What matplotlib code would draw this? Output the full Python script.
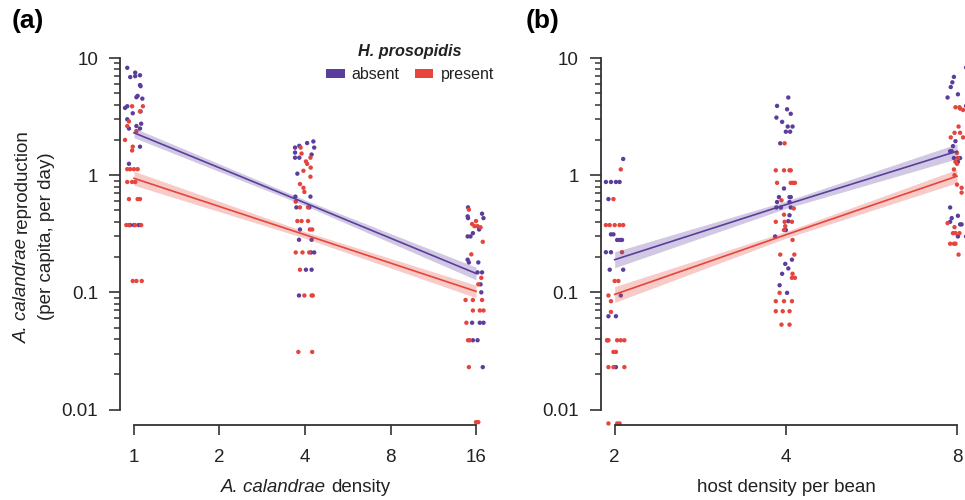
import matplotlib
matplotlib.use("Agg")
import matplotlib.pyplot as plt
from matplotlib.patches import Patch
from matplotlib.ticker import FixedLocator, NullFormatter

plt.rcParams['font.family'] = ['Liberation Sans', 'DejaVu Sans']

PURPLE = '#5b3e9c'
RED = '#e5453c'
AXC = '#333333'

# ---------------- data: panel (a) A. calandrae density ----------------
a_abs_x = [0.947, 1.01, 0.97, 1.01, 1.05, 1.05, 1.055, 1.03, 1.02, 1.07, 0.947, 0.93, 0.99, 1.055,
           0.947, 1.06, 1.02, 0.96, 1.05, 1.05, 0.96, 0.97, 1.0, 1.04,
           3.69, 3.82, 4.07, 4.28, 4.31, 4.22, 3.69, 3.69, 3.82, 3.76, 4.18, 3.70, 3.73, 4.14, 3.84,
           3.81, 4.22, 4.31, 4.20, 4.03, 4.22, 3.81,
           15.0, 14.95, 15.0, 16.8, 17.0, 16.4, 15.6, 14.95, 15.3, 14.95, 15.1, 16.3, 16.2, 16.8,
           16.6, 16.7, 15.5, 16.5, 17.0, 15.6, 16.2, 16.9]
a_abs_y = [8.25, 7.5, 6.875, 7.0, 7.125, 5.875, 5.75, 4.75, 4.625, 4.5, 3.875, 3.75, 3.375, 3.5,
           3.0, 2.75, 2.625, 2.5, 2.5, 1.75, 1.25, 0.375, 0.375, 0.375,
           1.72, 1.78, 1.88, 1.94, 1.72, 1.5, 1.56, 1.41, 1.41, 1.03, 0.656, 0.656, 0.531, 0.531, 0.344,
           0.281, 0.281, 0.219, 0.219, 0.156, 0.156, 0.094,
           0.531, 0.445, 0.43, 0.469, 0.43, 0.344, 0.32, 0.30, 0.30, 0.19, 0.18, 0.18, 0.148, 0.148,
           0.117, 0.10, 0.055, 0.055, 0.055, 0.039, 0.039, 0.023]
a_pre_x = [0.985, 1.075, 1.05, 0.96, 0.947, 1.02, 0.93, 0.99, 0.985, 0.947, 0.97, 1.0, 1.03, 0.947,
           0.985, 1.01, 0.96, 1.03, 1.05, 0.94, 0.96, 1.01, 1.06, 0.99, 1.02, 1.065,
           3.86, 3.89, 4.03, 4.07, 4.18, 3.95, 4.19, 4.18, 3.84, 3.95, 3.98, 3.71, 3.84, 4.1, 3.76,
           3.89, 4.1, 4.16, 4.24, 3.71, 3.92, 4.14, 3.84, 3.98, 4.22, 4.26, 3.79, 4.24,
           15.1, 15.5, 15.8, 16.0, 16.2, 16.6, 16.9, 15.4, 16.7, 16.3, 14.7, 15.6, 16.8, 15.6, 16.5,
           17.0, 14.8, 15.0, 15.2, 15.1, 16.0, 16.3]
a_pre_y = [3.875, 3.875, 3.5, 2.875, 2.625, 2.375, 2.0, 1.75, 1.625, 1.125, 1.125, 1.125, 1.125, 0.875,
           0.875, 0.875, 0.625, 0.625, 0.625, 0.375, 0.375, 0.375, 0.375, 0.125, 0.125, 0.125,
           1.72, 1.53, 1.31, 1.25, 1.41, 1.09, 1.16, 0.97, 0.84, 0.78, 0.72, 0.594, 0.531, 0.531, 0.406,
           0.406, 0.406, 0.344, 0.344, 0.219, 0.219, 0.219, 0.156, 0.094, 0.094, 0.094, 0.031, 0.031,
           0.508, 0.383, 0.367, 0.406, 0.367, 0.359, 0.27, 0.211, 0.133, 0.117, 0.086, 0.086, 0.086, 0.07,
           0.07, 0.07, 0.055, 0.039, 0.039, 0.023, 0.0078, 0.0078]

# fitted lines with confidence band (start, middle, end)
a_fit_x = [1, 4, 16]
a_abs_fit = [2.3, 0.58, 0.145]
a_abs_lo = [2.09, 0.55, 0.128]
a_abs_hi = [2.53, 0.615, 0.164]
a_pre_fit = [0.94, 0.31, 0.102]
a_pre_lo = [0.82, 0.29, 0.090]
a_pre_hi = [1.08, 0.33, 0.115]

# ---------------- data: panel (b) host density per bean ----------------
b_abs_x = [2.07, 1.93, 1.97, 2.01, 2.04, 1.95, 1.97, 1.99, 2.02, 2.04, 2.06, 1.93, 1.97, 1.96, 2.07,
           2.05, 1.95, 2.01, 1.94, 2.01,
           4.04, 3.86, 4.02, 4.08, 3.85, 3.94, 4.03, 4.11, 4.0, 4.07, 3.91, 3.97, 3.89, 4.06, 4.08,
           3.86, 4.06, 3.85, 3.92, 4.08, 4.06, 4.04, 4.0, 3.83, 3.99, 4.1, 4.04, 3.94, 3.90, 4.02,
           8.3, 7.9, 7.85, 7.8, 7.7, 8.03, 8.3, 7.95, 7.87, 7.83, 7.78, 7.9, 8.03, 8.1, 7.78, 7.83,
           8.03, 8.15, 8.1, 7.78, 8.03, 8.3]
b_abs_y = [1.375, 0.875, 0.875, 0.875, 0.875, 0.625, 0.3125, 0.3125, 0.28, 0.28, 0.28, 0.22, 0.22,
           0.156, 0.156, 0.094, 0.0625, 0.0625, 0.039, 0.023,
           4.6, 3.9, 3.65, 3.34, 3.1, 2.85, 2.6, 2.6, 2.35, 2.35, 1.87, 0.77, 0.65, 0.65, 0.65,
           0.59, 0.59, 0.53, 0.53, 0.53, 0.455, 0.405, 0.34, 0.30, 0.175, 0.19, 0.16, 0.144, 0.115, 0.099,
           8.3, 6.9, 6.2, 5.65, 4.6, 4.9, 3.9, 1.95, 1.77, 1.6, 1.6, 1.4, 1.3, 1.4, 0.53, 0.43,
           0.45, 0.38, 0.38, 0.40, 0.30, 0.30]
b_pre_x = [2.05, 1.99, 1.93, 1.96, 2.0, 2.04, 2.07, 2.06, 2.0, 2.03, 1.95, 1.97, 1.97, 1.94, 1.95,
           2.02, 2.05, 2.08, 1.99, 2.01, 1.95, 1.99, 2.08, 1.95, 2.02, 2.04,
           3.98, 3.84, 3.97, 4.06, 4.08, 3.86, 4.08, 4.12, 4.15, 3.93, 4.13, 3.97, 3.84, 3.98, 4.1,
           3.99, 3.97, 4.11, 3.91, 4.14, 4.11, 4.1, 4.15, 3.90, 3.84, 3.97, 4.1, 3.84, 3.95, 4.06,
           3.93, 4.06,
           7.95, 8.08, 8.2, 8.1, 8.05, 7.92, 8.1, 8.2, 7.8, 8.0, 8.03, 7.95, 8.0, 7.9, 7.92, 8.0,
           8.15, 8.15, 7.7, 7.92, 7.87, 7.95, 8.08, 7.78, 7.9, 7.95, 8.05]
b_pre_y = [1.12, 0.625, 0.375, 0.375, 0.375, 0.375, 0.375, 0.22, 0.125, 0.125, 0.094, 0.084, 0.068,
           0.039, 0.039, 0.039, 0.039, 0.039, 0.031, 0.031, 0.023, 0.023, 0.023, 0.0076, 0.0076, 0.0076,
           1.87, 1.1, 1.1, 1.1, 1.1, 0.86, 0.86, 0.86, 0.86, 0.61, 0.52, 0.46, 0.40, 0.40, 0.40,
           0.367, 0.34, 0.28, 0.21, 0.21, 0.144, 0.133, 0.133, 0.099, 0.084, 0.084, 0.084, 0.069, 0.069,
           0.069, 0.053, 0.053,
           3.8, 3.8, 3.6, 3.7, 2.6, 2.3, 2.3, 2.1, 2.1, 1.55, 1.4, 1.3, 1.25, 1.12, 1.0, 0.83,
           0.78, 0.71, 0.39, 0.36, 0.32, 0.32, 0.32, 0.26, 0.26, 0.26, 0.21]

b_fit_x = [2, 4, 8]
b_abs_fit = [0.19, 0.56, 1.6]
b_abs_lo = [0.162, 0.52, 1.38]
b_abs_hi = [0.222, 0.60, 1.85]
b_pre_fit = [0.096, 0.31, 0.98]
b_pre_lo = [0.082, 0.29, 0.86]
b_pre_hi = [0.112, 0.33, 1.12]

y_ticks = [0.01, 0.1, 1, 10]
y_ticklabels = ['0.01', '0.1', '1', '10']
a_xticks = [1, 2, 4, 8, 16]
b_xticks = [2, 4, 8]
legend_labels = ['absent', 'present']

# ---------------- figure ----------------
W, H = 965, 500
fig = plt.figure(figsize=(W / 100, H / 100), dpi=100)

FS = 13.5
TXT = '#222222'
SPACE_PT = 0.278 * FS

ax_bottom_px = 424.5
ax_top_px = 45
axh = (ax_bottom_px - ax_top_px) / H
axb = (H - ax_bottom_px) / H
axA = fig.add_axes([120.3 / W, axb, 369.4 / W, axh])
axB = fig.add_axes([601.0 / W, axb, 369.7 / W, axh])

minor = [m * 10.0 ** e for e in (-2, -1, 0) for m in range(2, 10)]


def style(ax, xticks, xlim):
    ax.set_xscale('log', base=2)
    ax.set_yscale('log')
    ax.set_xlim(*xlim)
    ax.set_ylim(10 ** -2.128, 10 ** 1.111)
    for s in ('top', 'right'):
        ax.spines[s].set_visible(False)
    for s in ('left', 'bottom'):
        ax.spines[s].set_color(AXC)
        ax.spines[s].set_linewidth(1.3)
    ax.spines['left'].set_bounds(0.01, 10)
    ax.spines['bottom'].set_bounds(xticks[0], xticks[-1])
    ax.yaxis.set_major_locator(FixedLocator(y_ticks))
    ax.set_yticklabels(y_ticklabels)
    ax.yaxis.set_minor_locator(FixedLocator(minor))
    ax.yaxis.set_minor_formatter(NullFormatter())
    ax.xaxis.set_major_locator(FixedLocator(xticks))
    ax.set_xticklabels([str(v) for v in xticks])
    ax.xaxis.set_minor_locator(FixedLocator([]))
    ax.tick_params(axis='y', which='major', length=8, width=1.2, color=AXC, labelsize=FS, pad=8,
                   labelcolor=TXT)
    ax.tick_params(axis='y', which='minor', length=4.5, width=1.1, color=AXC)
    ax.tick_params(axis='x', which='major', length=7.5, width=1.2, color=AXC, labelsize=FS, pad=10,
                   labelcolor=TXT)
    ax.patch.set_alpha(0)


def draw(ax, ax_x, ax_y, pr_x, pr_y, fx, af, alo, ahi, pf, plo, phi):
    ax.scatter(ax_x, ax_y, s=10, color=PURPLE, edgecolors='none', zorder=2, clip_on=False)
    ax.scatter(pr_x, pr_y, s=10, color=RED, edgecolors='none', zorder=2, clip_on=False)
    ax.fill_between(fx, alo, ahi, color=PURPLE, alpha=0.28, linewidth=0, zorder=3)
    ax.fill_between(fx, plo, phi, color=RED, alpha=0.28, linewidth=0, zorder=3)
    ax.plot(fx, af, color=PURPLE, lw=1.2, zorder=4)
    ax.plot(fx, pf, color=RED, lw=1.2, zorder=4)


style(axA, a_xticks, (2 ** -0.16, 2 ** 4.16))
style(axB, b_xticks, (2 ** 0.92, 2 ** 3.08))
draw(axA, a_abs_x, a_abs_y, a_pre_x, a_pre_y, a_fit_x, a_abs_fit, a_abs_lo, a_abs_hi,
     a_pre_fit, a_pre_lo, a_pre_hi)
draw(axB, b_abs_x, b_abs_y, b_pre_x, b_pre_y, b_fit_x, b_abs_fit, b_abs_lo, b_abs_hi,
     b_pre_fit, b_pre_lo, b_pre_hi)


# mixed italic / upright labels
def mixed_label(xc, yc, it_part, rest, rotation=0):
    kw = dict(fontsize=FS, color=TXT)
    if rotation == 0:
        t1 = fig.text(xc / W, 1 - yc / H, it_part, style='italic', ha='left', va='center', **kw)
        t2 = axA.annotate(rest, xy=(1, 0), xycoords=t1, xytext=(SPACE_PT, 0),
                          textcoords='offset points', ha='left', va='bottom',
                          annotation_clip=False, **kw)
    else:
        t1 = fig.text(xc / W, 1 - yc / H, it_part, style='italic', ha='center', va='bottom',
                      rotation=90, **kw)
        t2 = axA.annotate(rest, xy=(0, 1), xycoords=t1, xytext=(0, SPACE_PT),
                          textcoords='offset points', ha='left', va='bottom', rotation=90,
                          annotation_clip=False, **kw)
    return t1, t2


labels = [mixed_label(306, 487, 'A. calandrae', 'density'),
          mixed_label(22, 236, 'A. calandrae', 'reproduction', rotation=90)]
fig.text(786 / W, 1 - 487 / H, 'host density per bean', ha='center', va='center',
         fontsize=FS, color=TXT)
fig.text(47 / W, 1 - 236 / H, '(per capita, per day)', ha='center', va='center',
         rotation=90, fontsize=FS, color=TXT)

# center the mixed labels on their target positions
fig.canvas.draw()
rend = fig.canvas.get_renderer()
targets = [(306, 487, 0), (22, 236, 90)]
for (t1, t2), (xc, yc, rot) in zip(labels, targets):
    b1 = t1.get_window_extent(rend)
    b2 = t2.get_window_extent(rend)
    x0, y0 = t1.get_position()
    if rot == 0:
        cx = (min(b1.x0, b2.x0) + max(b1.x1, b2.x1)) / 2
        t1.set_x(x0 + (xc - cx) / W)
    else:
        cy = (min(b1.y0, b2.y0) + max(b1.y1, b2.y1)) / 2
        t1.set_y(y0 + ((H - yc) - cy) / H)

# panel labels
fig.text(12 / W, 1 - 21 / H, '(a)', ha='left', va='center', fontsize=19, fontweight='bold')
fig.text(526 / W, 1 - 21 / H, '(b)', ha='left', va='center', fontsize=19, fontweight='bold')

# legend
handles = [Patch(facecolor=PURPLE, edgecolor='none', label=legend_labels[0]),
           Patch(facecolor=RED, edgecolor='none', label=legend_labels[1])]
leg = axA.legend(handles=handles, title='H. prosopidis', ncol=2, frameon=False, loc='center',
                 bbox_to_anchor=(410 / W, 1 - 63 / H), bbox_transform=fig.transFigure,
                 fontsize=11.5, handlelength=1.15, handleheight=0.45, handletextpad=0.45,
                 columnspacing=0.95, borderpad=0.2, labelcolor=TXT)
leg.get_title().set_fontweight('bold')
leg.get_title().set_fontstyle('italic')
leg.get_title().set_fontsize(11.7)
leg.get_title().set_color(TXT)

fig.savefig('out.png', dpi=100)
